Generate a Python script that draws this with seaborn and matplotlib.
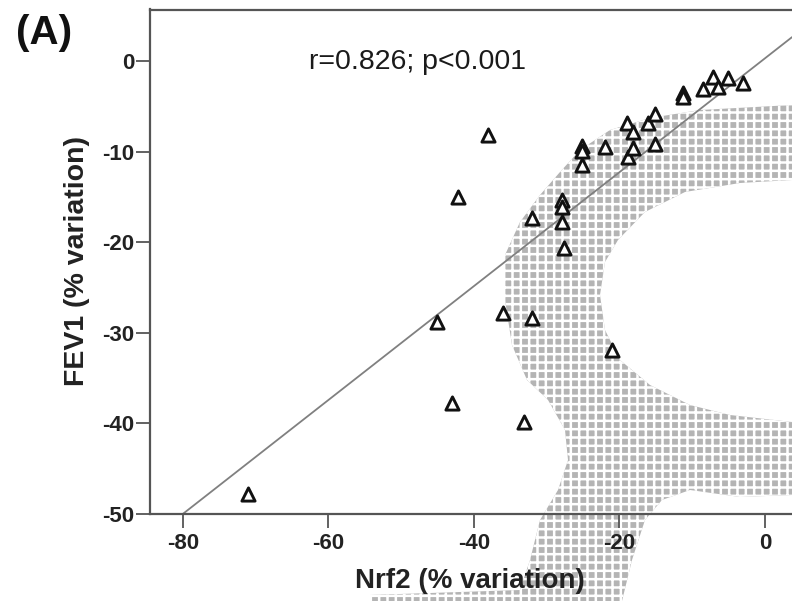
import numpy as np
import pandas as pd
import matplotlib
matplotlib.use("Agg")
import matplotlib.pyplot as plt
from matplotlib.patches import Polygon
import seaborn as sns

# ---------------- data ----------------
nrf2 = [-71.0, -45.1, -43.0, -42.2, -38.0, -36.0, -33.1, -32.0, -32.0,
        -27.9, -27.9, -27.9, -27.6, -25.1, -25.1, -25.1, -22.0, -21.0,
        -19.0, -18.8, -18.1, -18.1, -16.1, -15.1, -15.1, -11.3, -11.3,
        -8.5, -7.1, -6.5, -5.1, -3.0]
fev1 = [-47.8, -28.8, -37.7, -15.0, -8.2, -27.8, -39.8, -28.4, -17.3,
        -15.3, -16.1, -17.8, -20.6, -9.4, -9.9, -11.5, -9.5, -31.9,
        -6.8, -10.6, -7.8, -9.6, -6.8, -5.8, -9.2, -3.5, -4.0,
        -3.1, -1.8, -2.9, -1.9, -2.4]
# fitted line as drawn in the reference
fit_slope = 0.629
fit_intercept = 0.32
x_ticks = [-80, -60, -40, -20, 0]
y_ticks = [0, -10, -20, -30, -40, -50]
x_label = "Nrf2 (% variation)"
y_label = "FEV1 (% variation)"
stat_text = "r=0.826; p<0.001"
panel_text = "(A)"

df = pd.DataFrame({"Nrf2": nrf2, "FEV1": fev1})

# ---------------- style ----------------
sns.set_theme(style="ticks")
plt.rcParams["font.family"] = ["Liberation Sans", "DejaVu Sans"]
plt.rcParams["axes.unicode_minus"] = False
plt.rcParams["hatch.linewidth"] = 1.8

W, H = 792, 601
fig = plt.figure(figsize=(W / 100, H / 100), dpi=100)
ax = fig.add_axes([150 / W, 1 - 514 / H, 1 - 150 / W, (514 - 9.5) / H])
ax.patch.set_alpha(0)
xlim = (-84.5, 3.7)
ylim = (-50, 5.7)
ax.set_xlim(*xlim)
ax.set_ylim(*ylim)

line_x = np.array(xlim)
line_df = pd.DataFrame({"x": line_x, "y": fit_intercept + fit_slope * line_x})
sns.lineplot(data=line_df, x="x", y="y", color="#808080", lw=1.3, ax=ax,
             zorder=2)
sns.scatterplot(data=df, x="Nrf2", y="FEV1", marker="^", s=90,
                color="white", edgecolor="#111111", linewidth=2.1,
                ax=ax, zorder=3, legend=False)

ax.set_xlim(*xlim)
ax.set_ylim(*ylim)
ax.set_xticks(x_ticks)
ax.set_yticks(y_ticks)

for side in ["left", "bottom", "top"]:
    ax.spines[side].set_color("#555555")
    ax.spines[side].set_linewidth(1.6)
ax.spines["right"].set_visible(False)

ax.tick_params(axis="both", length=10, width=1.3, color="#555555",
               labelsize=16, labelcolor="#222222")
ax.tick_params(axis="x", pad=3.5)
ax.tick_params(axis="y", pad=1.5)
for lbl in ax.get_xticklabels() + ax.get_yticklabels():
    lbl.set_fontweight("bold")

ax.set_xlabel(x_label, fontsize=20, fontweight="bold", color="#222222")
ax.set_ylabel(y_label, fontsize=20.5, fontweight="bold", color="#222222")
ax.xaxis.set_label_coords(0.498, -0.108)
ax.yaxis.set_label_coords(-0.0935, 0.501)

ax.text(0.416, 0.896, stat_text, transform=ax.transAxes, fontsize=20.5,
        ha="center", va="center", color="#1a1a1a")
fig.text(44 / W, 1 - 33 / H, panel_text, fontsize=29, fontweight="bold",
         ha="center", va="center", color="#111111")

# ---------------- grey hatched watermark (decoration, behind the data) ----------------
wm_px = [(792, 105), (700, 110), (650, 118), (610, 130), (580, 150),
         (560, 172), (540, 195), (520, 222), (505, 255), (505, 300),
         (512, 345), (527, 380), (548, 400), (565, 430), (568, 460),
         (558, 490), (540, 520), (530, 560), (520, 590), (370, 595),
         (370, 601), (622, 601), (632, 560), (645, 520), (662, 500),
         (690, 490), (740, 497), (792, 495), (792, 422), (730, 415),
         (690, 405), (650, 385), (620, 360), (605, 330), (600, 295),
         (605, 262), (618, 240), (645, 212), (685, 192), (740, 183),
         (792, 180)]
wm = Polygon([(px / W, 1 - py / H) for px, py in wm_px], closed=True,
             transform=fig.transFigure, facecolor="#b4b4b4",
             edgecolor="white", hatch="++", linewidth=0, zorder=-1)
fig.patches.append(wm)

fig.savefig("out.png", dpi=100)
